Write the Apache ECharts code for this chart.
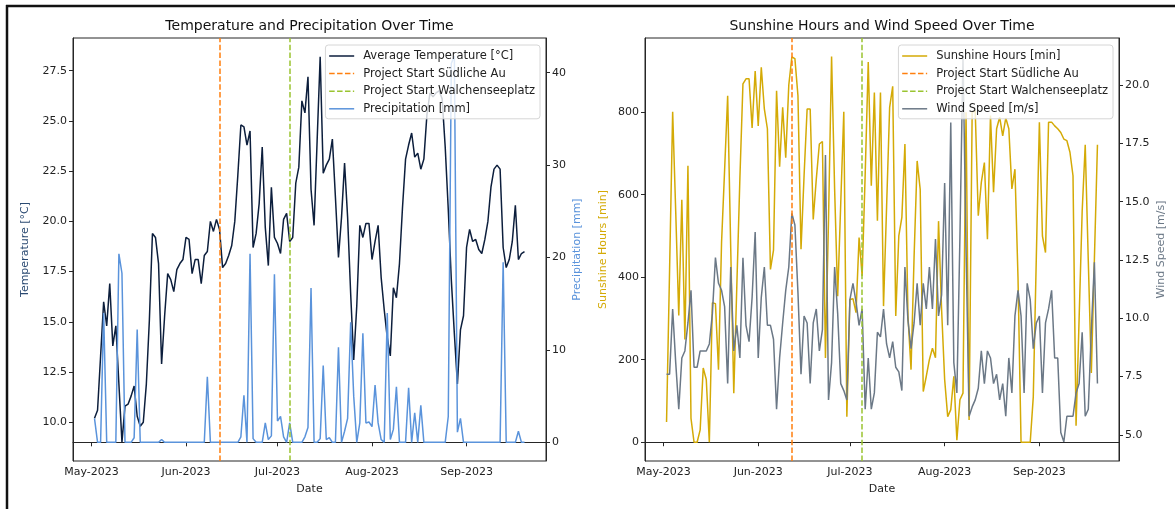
<!DOCTYPE html>
<html>
<head>
<meta charset="utf-8">
<script src="https://cdn.jsdelivr.net/npm/echarts@6/dist/echarts.min.js"></script>
<style>
html,body{margin:0;padding:0;background:#fff;}
#chart{width:1175px;height:509px;}
</style>
</head>
<body>
<div id="chart"></div>
<script>
// ---------------- DATA ----------------
const firstDay = [2023, 4, 2];            // 2 May 2023 (month is 0-based)
const monthTicks = [[2023,4,1],[2023,5,1],[2023,6,1],[2023,7,1],[2023,8,1]];
const monthLabels = ['May-2023','Jun-2023','Jul-2023','Aug-2023','Sep-2023'];
const projectStartSuedlicheAu = [2023, 5, 12];
const projectStartWalchenseeplatz = [2023, 6, 5];

const temperature = [
10.2,10.6,13.3,16.0,14.8,16.9,13.8,14.8,11.9,9.0,
10.8,10.9,11.3,11.8,10.3,9.8,10.0,11.9,15.1,19.4,
19.2,17.9,12.9,15.3,17.4,17.1,16.5,17.6,17.9,18.1,
19.2,19.1,17.4,18.1,18.1,16.9,18.3,18.5,20.0,19.5,
20.1,19.6,17.7,17.9,18.3,18.8,20.0,22.3,24.8,24.7,
23.8,24.5,18.7,19.4,20.9,23.7,19.7,17.8,21.7,19.2,
18.9,18.4,20.1,20.4,19.0,19.2,21.9,22.7,26.0,25.4,
27.2,21.6,19.8,24.0,28.2,22.4,22.8,23.1,24.1,21.2,
18.2,20.2,22.9,20.2,16.4,13.1,15.8,19.8,19.2,19.9,
19.9,18.1,19.0,19.8,17.2,15.6,14.2,13.3,16.7,16.2,
17.9,20.7,23.1,23.8,24.4,23.2,23.4,22.6,23.1,25.3,
26.4,26.2,26.4,26.5,26.1,23.7,20.6,17.1,14.4,11.9,
14.6,15.3,18.7,19.6,19.0,19.1,18.6,18.4,19.1,20.0,
21.7,22.6,22.8,22.6,18.7,17.7,18.1,19.0,20.8,18.1,
18.4,18.5
];
const precipitation = [
2.6,0,0,14.0,0,0,0,0,20.4,18.3,
0,0,0,0.5,12.2,0,0,0,0,0,
0,0,0.3,0,0,0,0,0,0,0,
0,0,0,0,0,0,0,7.1,0,0,
0,0,0,0,0,0,0,0,0.6,5.1,
0,20.4,0.4,0,0,0,2.1,0.3,0.7,18.2,
2.3,2.8,0.6,0,2.1,0,0,0,0,0.6,
1.6,16.7,0,0,0.4,8.3,0.3,0.5,0,0,
10.3,0,1.2,2.6,13.0,5.0,0,2.1,11.8,2.1,
2.2,1.7,6.2,2.1,0.3,0,14.0,0.3,1.4,6.0,
0,0,0,5.9,0,3.2,0,4.0,0,0,
0,0,0,0,0,0,2.8,41.0,41.8,1.1,
2.6,0,0,0,0,0,0,0,0,0,
0,0,0,0,19.5,0,0,0,0,1.2,
0,0
];
const sunshine = [
49,420,801,560,307,588,249,670,58,0,
0,30,180,152,0,338,336,176,484,660,
840,470,119,380,640,869,881,881,762,900,
767,909,808,760,419,466,852,668,812,690,
866,934,930,840,468,646,808,808,540,638,
723,729,204,540,935,613,354,580,801,62,
346,348,314,496,403,650,922,622,848,537,
848,330,570,812,863,306,500,545,723,306,
176,450,682,613,123,160,200,228,205,536,
322,152,62,79,160,5,103,119,800,54,
800,804,549,630,678,492,792,606,760,788,
743,786,760,614,662,400,0,0,0,0,
110,450,776,500,460,776,776,767,760,751,
735,731,703,646,40,300,560,721,440,168,
445,721
];
const windSpeed = [
7.6,7.6,10.4,8.1,6.1,8.3,8.6,9.8,11.2,7.9,
7.9,8.6,8.6,8.6,8.9,10.2,12.6,11.5,11.2,10.5,
7.2,12.2,8.6,9.7,8.3,12.6,9.7,9.0,10.9,13.7,
8.3,10.9,12.2,9.7,9.7,9.1,6.1,8.3,9.8,11.2,
12.2,14.5,14.0,11.1,7.6,10.1,9.8,7.2,9.8,10.4,
8.6,9.5,17.0,6.5,8.1,12.2,10.2,7.2,6.9,6.5,
10.8,11.5,10.7,9.7,10.4,6.1,8.3,6.1,6.8,9.4,
9.2,10.4,8.9,8.3,9.0,7.9,7.7,6.9,12.2,9.9,
8.7,9.8,11.5,9.7,11.5,10.4,12.2,10.4,13.4,10.1,
11.0,15.8,9.7,18.4,8.1,6.8,13.5,21.3,13.0,5.8,
6.2,6.5,7.0,8.6,7.2,8.6,8.3,7.2,7.6,6.5,
7.2,5.8,8.3,6.8,10.1,11.2,10.1,6.8,11.5,10.8,
8.7,9.8,10.1,6.8,9.8,10.4,11.2,8.3,8.3,5.1,
4.7,5.8,5.8,5.8,6.8,7.2,9.4,5.8,6.1,9.5,
12.4,7.2
];
const tempTicks = [10.0,12.5,15.0,17.5,20.0,22.5,25.0,27.5];
const precipTicks = [0,10,20,30,40];
const sunshineTicks = [0,200,400,600,800];
const windTicks = [5.0,7.5,10.0,12.5,15.0,17.5,20.0];

// axis limits (as drawn in the reference)
const tempRange = [8.07, 29.13];
const precipRange = [-2.02, 43.76];
const sunshineRange = [-45.5, 980];
const windRange = [3.88, 22.02];

// ---------------- BUILD ----------------
const DAY = 86400000;
const ts = a => new Date(a[0], a[1], a[2]).getTime();
const t0 = ts(firstDay);
const dates = temperature.map((_, i) => t0 + i * DAY);
const span = dates[dates.length - 1] - dates[0];
const xMin = dates[0] - 0.05 * span, xMax = dates[dates.length - 1] + 0.05 * span;
const monthVals = monthTicks.map(ts);
const pair = arr => arr.map((v, i) => [dates[i], v]);

const FONT = 'DejaVu Sans';
const AX = '#262626';
const C = {
  temp: '#0c1e3c', precip: '#5a93db', orange: '#ff7f0e', green: '#9ac431',
  sun: '#d4aa06', wind: '#6b7886', tempLabel: '#2b4a72'
};

function xAxis(gi) {
  return {
    type: 'value', gridIndex: gi, min: xMin, max: xMax,
    name: 'Date', nameLocation: 'middle', nameGap: 23,
    nameTextStyle: { fontFamily: FONT, fontSize: 11, color: '#222' },
    axisLine: { show: true, lineStyle: { color: AX, width: 1 } },
    axisTick: { show: true, length: 4, customValues: monthVals, lineStyle: { color: AX } },
    axisLabel: {
      customValues: monthVals, margin: 6, fontFamily: FONT, fontSize: 11, color: '#222',
      formatter: v => { const k = monthVals.indexOf(v); return k >= 0 ? monthLabels[k] : ''; }
    },
    splitLine: { show: false }
  };
}
function yAxis(gi, pos, range, ticks, name, color, gap, dec) {
  return {
    type: 'value', gridIndex: gi, position: pos, min: range[0], max: range[1],
    name: name, nameLocation: 'middle', nameGap: gap, nameRotate: 90,
    nameTextStyle: { fontFamily: FONT, fontSize: 11, color: color },
    axisLine: { show: true, lineStyle: { color: AX, width: 1 } },
    axisTick: { show: true, length: 4, customValues: ticks, lineStyle: { color: AX } },
    axisLabel: {
      customValues: ticks, margin: 6, fontFamily: FONT, fontSize: 11, color: '#222',
      formatter: v => v.toFixed(dec)
    },
    splitLine: { show: false }
  };
}
function lineSeries(name, xi, yi, data, color, z) {
  return {
    name, type: 'line', xAxisIndex: xi, yAxisIndex: yi, data: pair(data),
    symbol: 'none', showSymbol: false, animation: false, z: z,
    lineStyle: { color, width: 1.5 }, itemStyle: { color }
  };
}
function vline(name, xi, yi, day, color) {
  return {
    name, type: 'line', xAxisIndex: xi, yAxisIndex: yi, data: [], symbol: 'none',
    animation: false, z: 2,
    lineStyle: { color, width: 1.5, type: [5.5, 2.4] }, itemStyle: { color },
    markLine: {
      silent: true, symbol: ['none', 'none'], animation: false,
      label: { show: false },
      lineStyle: { color, width: 1.5, type: [5.5, 2.4] },
      data: [{ xAxis: ts(day) }]
    }
  };
}
function legend(names, right) {
  return {
    data: names, orient: 'vertical', right: right, top: 45,
    itemWidth: 25, itemHeight: 13, itemGap: 5.6,
    padding: [5, 5, 4, 3],
    itemStyle: { opacity: 0, borderWidth: 0 },
    lineStyle: { width: 1.5 },
    backgroundColor: 'rgba(255,255,255,0.8)', borderColor: '#d6d6d6', borderWidth: 1, borderRadius: 3,
    textStyle: { fontFamily: FONT, fontSize: 11.5, color: '#222', padding: [0, 0, 0, 4] },
    selectedMode: false
  };
}

const N1 = 'Average Temperature [°C]', N2 = 'Project Start Südliche Au',
      N3 = 'Project Start Walchenseeplatz', N4 = 'Precipitation [mm]',
      N5 = 'Sunshine Hours [min]', N8 = 'Wind Speed [m/s]';

const option = {
  backgroundColor: '#fff',
  animation: false,
  textStyle: { fontFamily: FONT },
  title: [
    { text: 'Temperature and Precipitation Over Time', left: 309.5, top: 19.5, textAlign: 'center', padding: 0,
      textStyle: { fontFamily: FONT, fontSize: 14, fontWeight: 'normal', color: '#111' } },
    { text: 'Sunshine Hours and Wind Speed Over Time', left: 882, top: 19.5, textAlign: 'center', padding: 0,
      textStyle: { fontFamily: FONT, fontSize: 14, fontWeight: 'normal', color: '#111' } }
  ],
  grid: [
    { left: 73, top: 38, width: 473, height: 423, show: true, borderColor: AX, borderWidth: 1, backgroundColor: 'transparent' },
    { left: 645, top: 38, width: 474, height: 423, show: true, borderColor: AX, borderWidth: 1, backgroundColor: 'transparent' }
  ],
  xAxis: [xAxis(0), xAxis(1)],
  yAxis: [
    yAxis(0, 'left', tempRange, tempTicks, 'Temperature [°C]', C.tempLabel, 42, 1),
    yAxis(0, 'right', precipRange, precipTicks, 'Precipitation [mm]', C.precip, 26, 0),
    yAxis(1, 'left', sunshineRange, sunshineTicks, 'Sunshine Hours [min]', C.sun, 36, 0),
    yAxis(1, 'right', windRange, windTicks, 'Wind Speed [m/s]', C.wind, 37, 1)
  ],
  legend: [legend([N1, N2, N3, N4], 635), legend([N5, N2, N3, N8], 62)],
  series: [
    lineSeries(N1, 0, 0, temperature, C.temp, 2),
    vline(N2, 0, 0, projectStartSuedlicheAu, C.orange),
    vline(N3, 0, 0, projectStartWalchenseeplatz, C.green),
    lineSeries(N4, 0, 1, precipitation, C.precip, 3),
    lineSeries(N5, 1, 2, sunshine, C.sun, 2),
    vline(N2, 1, 2, projectStartSuedlicheAu, C.orange),
    vline(N3, 1, 2, projectStartWalchenseeplatz, C.green),
    lineSeries(N8, 1, 3, windSpeed, C.wind, 3)
  ],
  graphic: [
    { type: 'line', shape: { x1: 6, y1: 6, x2: 1175, y2: 6 }, style: { stroke: '#111', lineWidth: 2.5 }, z: 100 },
    { type: 'line', shape: { x1: 7, y1: 5, x2: 7, y2: 509 }, style: { stroke: '#111', lineWidth: 2.5 }, z: 100 }
  ]
};

const chart = echarts.init(document.getElementById('chart'), null, { renderer: 'canvas' });
chart.setOption(option);
</script>
</body>
</html>
